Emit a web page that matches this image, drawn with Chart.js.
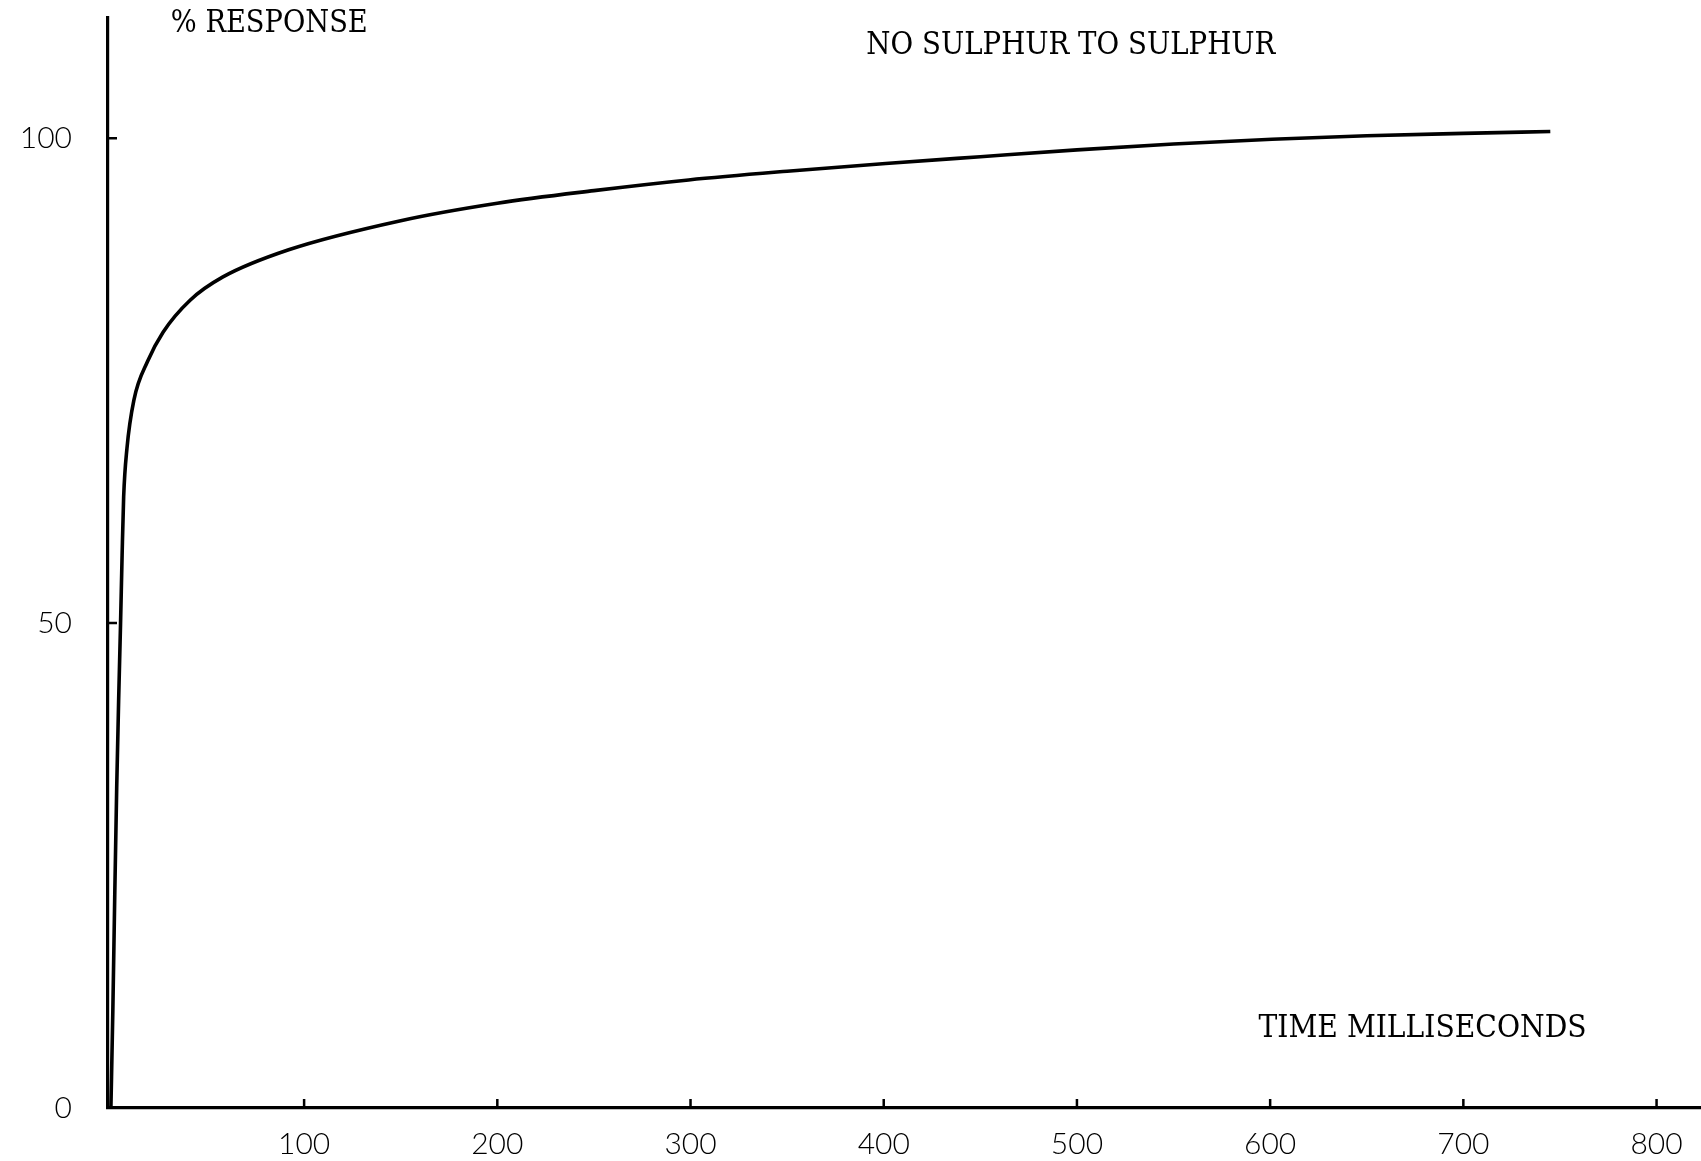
<!DOCTYPE html>
<html>
<head>
<meta charset="utf-8">
<style>
  html, body { margin: 0; padding: 0; background: #fff; }
  #wrap { width: 1701px; height: 1161px; }
</style>
<script src="https://cdn.jsdelivr.net/npm/chart.js@4/dist/chart.umd.min.js"></script>
</head>
<body>
<div id="wrap"><canvas id="c" width="1701" height="1161"></canvas></div>
<script>
// Response curve: time after switching from no sulphur to sulphur
const timeMs = [0, 1, 2, 3, 4, 5, 5.8, 6.6, 8.3, 11.9, 19, 27, 41, 58, 92, 150, 200, 250, 299, 350, 401, 450, 500, 550, 601, 650, 700, 745];
const responsePct = [0, 10, 22, 33, 42, 50, 57, 63, 68, 73, 77, 80, 83.3, 85.7, 88.5, 91.5, 93.3, 94.6, 95.7, 96.6, 97.4, 98.1, 98.8, 99.4, 99.9, 100.25, 100.5, 100.7];

// Axis tick values
const xTicks = [100, 200, 300, 400, 500, 600, 700, 800];
const yTicks = [0, 50, 100];

// Typed annotations
const chartTitle = 'NO SULPHUR TO SULPHUR';
const yAxisTitle = '% RESPONSE';
const xAxisTitle = 'TIME MILLISECONDS';

const tickFont = { family: 'Lato, "DejaVu Sans", sans-serif', size: 30, weight: '300' };
const typeFont = '31px "DejaVu Serif", "Liberation Serif", serif';

// Short tick marks pointing into the plot area
const inwardTicks = {
  id: 'inwardTicks',
  afterDatasetsDraw(chart) {
    const { ctx, scales: { x, y }, chartArea } = chart;
    ctx.save();
    ctx.strokeStyle = '#000';
    ctx.lineWidth = 2.5;
    ctx.beginPath();
    x.ticks.forEach(t => {
      const px = x.getPixelForValue(t.value);
      ctx.moveTo(px, chartArea.bottom);
      ctx.lineTo(px, chartArea.bottom - 9);
    });
    y.ticks.forEach(t => {
      if (t.value === 0) return;
      const py = y.getPixelForValue(t.value);
      ctx.moveTo(chartArea.left, py);
      ctx.lineTo(chartArea.left + 9, py);
    });
    ctx.stroke();
    ctx.restore();
  }
};

// Typewritten labels placed in data coordinates
const typedLabels = {
  id: 'typedLabels',
  afterDraw(chart) {
    const { ctx, scales: { x, y } } = chart;
    const items = [
      { text: yAxisTitle, tx: 31, ty: 111.8, w: 197 },
      { text: chartTitle, tx: 391, ty: 109.5, w: 409 },
      { text: xAxisTitle, tx: 594, ty: 8.1, w: 328 }
    ];
    ctx.save();
    ctx.fillStyle = '#000';
    ctx.font = typeFont;
    ctx.textAlign = 'left';
    ctx.textBaseline = 'middle';
    items.forEach(it => {
      ctx.fillText(it.text, x.getPixelForValue(it.tx), y.getPixelForValue(it.ty), it.w);
    });
    ctx.restore();
  }
};

const noPad = s => { s.paddingTop = 0; s.paddingBottom = 0; s.paddingLeft = 0; s.paddingRight = 0; };

new Chart(document.getElementById('c').getContext('2d'), {
  type: 'line',
  data: {
    datasets: [{
      data: timeMs.map((t, i) => ({ x: t, y: responsePct[i] })),
      borderColor: '#000',
      borderWidth: 3.6,
      pointRadius: 0,
      fill: false,
      cubicInterpolationMode: 'monotone'
    }]
  },
  options: {
    responsive: false,
    animation: false,
    layout: { padding: { top: 18, right: 0, bottom: 0, left: 0 } },
    plugins: { legend: { display: false }, tooltip: { enabled: false }, title: { display: false } },
    scales: {
      x: {
        type: 'linear',
        min: -1.5,
        max: 823,
        afterBuildTicks: s => { s.ticks = xTicks.map(v => ({ value: v })); },
        afterFit: s => { s.height = 53; noPad(s); },
        grid: { display: false, drawTicks: false },
        border: { display: true, color: '#000', width: 3.2 },
        ticks: { color: '#000', font: tickFont, padding: 18, maxRotation: 0, autoSkip: false }
      },
      y: {
        type: 'linear',
        min: 0,
        max: 112.4,
        afterBuildTicks: s => { s.ticks = yTicks.map(v => ({ value: v })); },
        afterFit: s => { s.width = 108; noPad(s); },
        grid: { display: false, drawTicks: false },
        border: { display: true, color: '#000', width: 3.2 },
        ticks: { color: '#000', font: tickFont, padding: 36, autoSkip: false }
      }
    }
  },
  plugins: [inwardTicks, typedLabels]
});
</script>
</body>
</html>
